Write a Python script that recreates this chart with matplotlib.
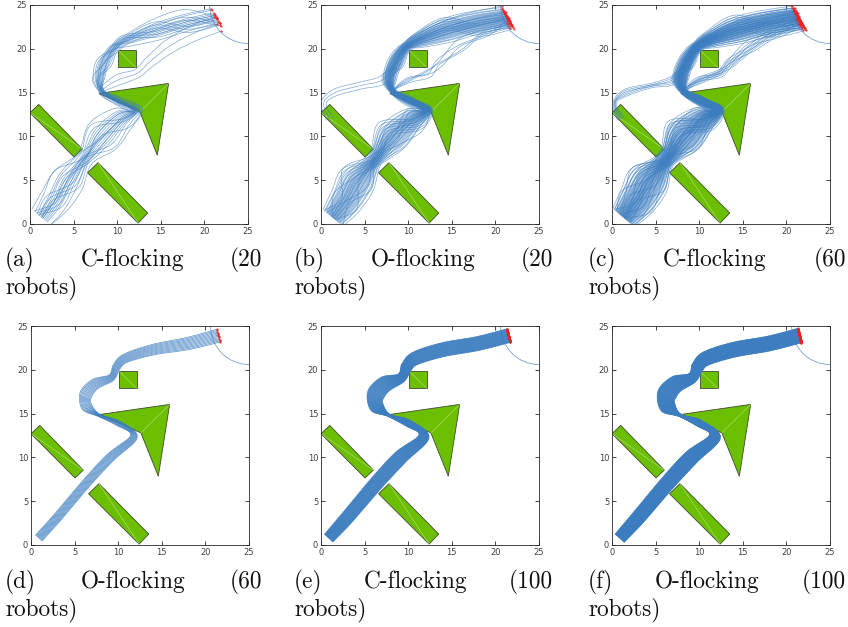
import matplotlib
matplotlib.use("Agg")
import matplotlib.pyplot as plt
import numpy as np
from matplotlib.patches import Polygon, Circle

W, H = 848, 627

# obstacles (data coords)
SQUARE = [(10.1, 17.9), (12.1, 17.9), (12.1, 19.85), (10.1, 19.85)]
SQUARE_DIAG = [(10.1, 19.85), (12.1, 17.9)]
ARROW = [(7.9, 14.9), (15.9, 16.05), (14.6, 7.85), (12.6, 12.8)]
ARROW_DIAG = [(12.6, 12.8), (15.9, 16.05)]
RECT1 = [(0.0, 12.7), (1.0, 13.65), (6.0, 8.55), (5.05, 7.65)]
RECT1_DIAG = [(0.0, 12.7), (6.0, 8.55)]
RECT2 = [(6.6, 5.85), (7.8, 7.0), (13.5, 1.25), (12.4, 0.1)]
RECT2_DIAG = [(7.8, 7.0), (12.4, 0.1)]
GOAL_CENTER = (25.0, 25.0)
GOAL_RADIUS = 4.4

# C-flocking style (top row) main corridor
MAIN_X = [1.3, 2.8, 4.4, 6.3, 8.3, 10.6, 12.2, 10.2, 8.3, 7.9, 8.5, 9.6, 11.0, 14.5, 18.0, 21.4]
MAIN_Y = [0.8, 2.6, 5.0, 7.5, 10.0, 12.0, 13.0, 14.0, 15.1, 16.6, 18.4, 20.0, 21.0, 22.2, 23.0, 23.5]
# branch passing below/right of the square (joins main at index 8)
BRANCH_X = [10.0, 12.3, 13.6, 16.0, 18.8, 21.5]
BRANCH_Y = [16.4, 17.2, 18.4, 20.3, 21.8, 22.8]
# branch leaving around the left end of the upper-left bar
LEFT_X = [1.0, 0.3, 1.6, 4.5, 7.0, 8.4, 9.6, 12.0, 16.0, 21.2]
LEFT_Y = [12.0, 13.8, 15.0, 15.8, 16.4, 18.0, 20.2, 21.5, 23.0, 24.2]

# O-flocking style (bottom row) corridor
SMOOTH_X = [0.9, 2.9, 6.3, 9.1, 11.8, 10.0, 7.8, 6.4, 6.3, 7.4, 9.2, 9.8, 10.8, 14.0, 18.0, 21.5]
SMOOTH_Y = [0.8, 3.0, 7.0, 10.0, 12.4, 13.9, 14.8, 15.8, 17.2, 18.4, 19.1, 20.3, 21.3, 22.3, 23.0, 23.9]

# band widths along each corridor, per panel
WIDTH_A = [2.8, 3.6, 3.8, 2.0, 4.2, 3.0, 1.4, 1.0, 0.7, 1.8, 2.0, 1.4, 1.6, 3.0, 3.0, 3.0]
WIDTH_B = [3.2, 4.2, 4.6, 2.2, 4.8, 3.4, 1.5, 1.2, 0.8, 2.0, 2.2, 1.5, 2.0, 3.4, 3.2, 3.0]
WIDTH_C = [3.4, 4.6, 5.0, 2.4, 5.2, 3.6, 1.6, 1.3, 0.9, 2.2, 2.2, 1.6, 2.2, 3.8, 3.6, 3.6]
WIDTH_D = [1.0, 1.0, 1.0, 1.0, 0.8, 0.6, 0.3, 1.2, 1.4, 1.2, 0.8, 0.9, 1.0, 1.2, 1.4, 1.5]
WIDTH_E = [1.3, 1.5, 1.6, 1.6, 1.2, 0.8, 0.3, 1.6, 2.0, 1.8, 1.1, 1.3, 1.5, 1.6, 1.6, 1.6]
WIDTH_F = [1.4, 1.6, 1.7, 1.7, 1.3, 0.8, 0.3, 1.8, 2.2, 1.9, 1.2, 1.4, 1.6, 1.7, 1.7, 1.7]
BRANCH_W = [1.2, 1.0, 1.2, 1.6, 1.8, 1.8]
LEFT_W = [0.8, 0.6, 0.8, 0.8, 1.0, 1.0, 0.8, 1.2, 1.6, 1.6]

ROBOTS_MAIN = [18, 42, 70, 12, 45, 70]
ROBOTS_BRANCH = [3, 5, 10, 0, 0, 0]
ROBOTS_LEFT = [0, 3, 6, 0, 0, 0]

LETTERS = ["(a)", "(b)", "(c)", "(d)", "(e)", "(f)"]
METHODS = ["C-flocking", "O-flocking", "C-flocking", "O-flocking", "C-flocking", "O-flocking"]
COUNTS = ["(20", "(20", "(60", "(60", "(100", "(100"]

BLUE = "#3C7DC0"
GREEN = "#6CBF00"


def catmull(pts, n=12):
    p = np.vstack([pts[0], pts, pts[-1]])
    t = np.linspace(0, 1, n, endpoint=False)[:, None]
    out = []
    for i in range(1, len(p) - 2):
        p0, p1, p2, p3 = p[i - 1], p[i], p[i + 1], p[i + 2]
        out.append(0.5 * (2 * p1 + (-p0 + p2) * t + (2 * p0 - 5 * p1 + 4 * p2 - p3) * t ** 2
                          + (-p0 + 3 * p1 - 3 * p2 + p3) * t ** 3))
    out.append(pts[-1:])
    return np.vstack(out)


def band(xs, ys, widths, n, mix, end_normal):
    """n robot paths spread across a corridor; mix > 0 lets them cross each other."""
    pts = np.column_stack([xs, ys]).astype(float)
    tang = np.gradient(pts, axis=0)
    tang /= np.linalg.norm(tang, axis=1)[:, None]
    normals = np.column_stack([-tang[:, 1], tang[:, 0]])
    normals[-1] = np.array(end_normal) / np.linalg.norm(end_normal)
    w = np.array(widths, dtype=float)
    u = np.linspace(-0.5, 0.5, n) if n > 1 else np.zeros(1)
    paths = []
    for i in range(n):
        offs = []
        for k in range(len(pts)):
            if mix:
                j = (i * 7 + k * 3) % n
                offs.append((1 - mix) * u[i] + mix * u[j])
            else:
                offs.append(u[i])
        p = pts + normals * (np.array(offs) * w)[:, None]
        paths.append(catmull(p))
    return paths


def draw_obstacles(ax):
    for poly, diag in [(SQUARE, SQUARE_DIAG), (ARROW, ARROW_DIAG),
                       (RECT1, RECT1_DIAG), (RECT2, RECT2_DIAG)]:
        ax.add_patch(Polygon(poly, closed=True, facecolor=GREEN, edgecolor="#3d4a33",
                             linewidth=0.6, zorder=1))
        (x0, y0), (x1, y1) = diag
        ax.plot([x0, x1], [y0, y1], color="#b5e08a", lw=0.4, zorder=1.1)


fig = plt.figure(figsize=(W / 100, H / 100), dpi=100)
fig.patch.set_facecolor("white")

ax_boxes = [(30, 5), (321, 5), (612, 5), (31, 326), (321, 326), (612, 326)]
AX_W, AX_H = 218, 219

widths = [WIDTH_A, WIDTH_B, WIDTH_C, WIDTH_D, WIDTH_E, WIDTH_F]
for idx, (lx, ty) in enumerate(ax_boxes):
    ax = fig.add_axes([lx / W, 1 - (ty + AX_H) / H, AX_W / W, AX_H / H])
    ax.set_xlim(0, 25)
    ax.set_ylim(0, 25)
    ax.set_xticks(range(0, 26, 5))
    ax.set_yticks(range(0, 26, 5))
    ax.tick_params(direction="in", top=True, right=True, length=3, width=0.6,
                   color="#262626", labelsize=6, labelcolor="#404040", pad=2)
    for sp in ax.spines.values():
        sp.set_linewidth(0.6)
        sp.set_color("#262626")
    draw_obstacles(ax)
    ax.add_patch(Circle(GOAL_CENTER, GOAL_RADIUS, fill=False, edgecolor=BLUE,
                        alpha=0.7, lw=0.6, zorder=2))

    top_row = idx < 3
    ends = []
    if top_row:
        n = ROBOTS_MAIN[idx]
        paths = band(MAIN_X, MAIN_Y, widths[idx], n, 0.5, (-0.5, 0.86))
        nb = ROBOTS_BRANCH[idx]
        if nb:
            bx = MAIN_X[:9] + BRANCH_X
            by = MAIN_Y[:9] + BRANCH_Y
            bw = widths[idx][:9] + BRANCH_W
            paths += band(bx, by, bw, nb, 0.5, (-0.5, 0.86))
        nl = ROBOTS_LEFT[idx]
        if nl:
            paths += band(LEFT_X, LEFT_Y, LEFT_W, nl, 0.3, (-0.5, 0.86))
        lw, alpha = 0.5, 0.65
    else:
        n = ROBOTS_MAIN[idx]
        paths = band(SMOOTH_X, SMOOTH_Y, widths[idx], n, 0, (-0.25, 0.97))
        lw, alpha = 0.55, 0.8
    for p in paths:
        ax.plot(p[:, 0], p[:, 1], color=BLUE, lw=lw, alpha=alpha, zorder=3)
        ends.append(p[-1])
    ends = np.array(ends)
    ax.plot(ends[:, 0], ends[:, 1], ".", color="#ee2020", ms=1.0, zorder=4)

# captions (justified, two lines)
cap_cols = [(5, 262), (294, 553), (588, 846)]
cap_base = [266, 588]
cap_font = dict(family="cmr10", size=16.8, color="#111111")
fig.canvas.draw()
renderer = fig.canvas.get_renderer()
for idx in range(6):
    x0, x1 = cap_cols[idx % 3]
    yb = cap_base[idx // 3]
    t1 = fig.text(x0 / W, 1 - yb / H, LETTERS[idx], ha="left", va="baseline", **cap_font)
    t3 = fig.text(x1 / W, 1 - yb / H, COUNTS[idx], ha="right", va="baseline", **cap_font)
    t2 = fig.text(0, 1 - yb / H, METHODS[idx], ha="left", va="baseline", **cap_font)
    w1 = t1.get_window_extent(renderer).width
    w2 = t2.get_window_extent(renderer).width
    w3 = t3.get_window_extent(renderer).width
    gap = (x1 - x0 - w1 - w2 - w3) / 2
    t2.set_x((x0 + w1 + gap) / W)
    fig.text(x0 / W, 1 - (yb + 27) / H, "robots)", ha="left", va="baseline", **cap_font)

fig.savefig("out.png", dpi=100, facecolor="white")
